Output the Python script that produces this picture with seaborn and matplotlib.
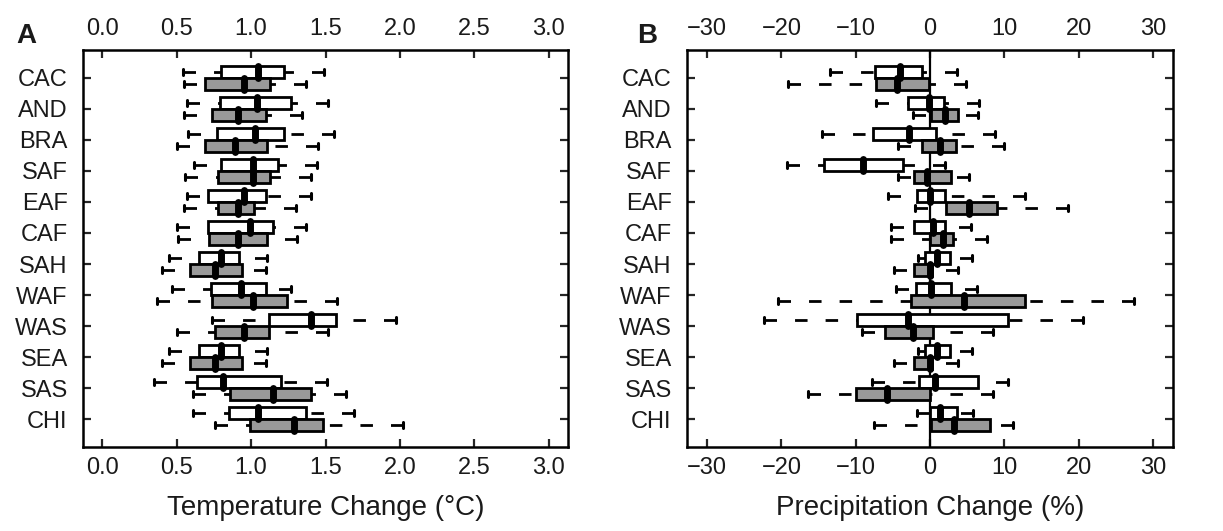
import numpy as np
import pandas as pd
import matplotlib
matplotlib.use('Agg')  # no display
import matplotlib.pyplot as plt
import seaborn as sns

regions = ["CAC", "AND", "BRA", "SAF", "EAF", "CAF",
           "SAH", "WAF", "WAS", "SEA", "SAS", "CHI"]
series = ["upper", "lower"]

# five-number summaries:
# [whisker low, Q1, median, Q3, whisker high], one row per region
temp_upper = [
    [0.54, 0.80, 1.05, 1.22, 1.49],  # CAC
    [0.57, 0.79, 1.04, 1.27, 1.52],  # AND
    [0.58, 0.77, 1.03, 1.22, 1.56],  # BRA
    [0.62, 0.80, 1.01, 1.18, 1.44],  # SAF
    [0.57, 0.71, 0.95, 1.10, 1.40],  # EAF
    [0.50, 0.71, 0.99, 1.15, 1.37],  # CAF
    [0.45, 0.65, 0.80, 0.92, 1.11],  # SAH
    [0.47, 0.73, 0.93, 1.10, 1.27],  # WAF
    [0.74, 1.12, 1.40, 1.57, 1.97],  # WAS
    [0.45, 0.65, 0.80, 0.92, 1.11],  # SEA
    [0.35, 0.64, 0.81, 1.20, 1.51],  # SAS
    [0.61, 0.85, 1.05, 1.37, 1.69],  # CHI
]
temp_lower = [
    [0.55, 0.69, 0.95, 1.13, 1.37],  # CAC
    [0.55, 0.74, 0.91, 1.10, 1.34],  # AND
    [0.50, 0.69, 0.89, 1.11, 1.45],  # BRA
    [0.56, 0.78, 1.01, 1.13, 1.40],  # SAF
    [0.55, 0.78, 0.91, 1.02, 1.30],  # EAF
    [0.51, 0.72, 0.91, 1.11, 1.31],  # CAF
    [0.40, 0.59, 0.76, 0.94, 1.10],  # SAH
    [0.37, 0.74, 1.01, 1.24, 1.58],  # WAF
    [0.50, 0.76, 0.95, 1.12, 1.52],  # WAS
    [0.40, 0.59, 0.76, 0.94, 1.10],  # SEA
    [0.61, 0.86, 1.15, 1.40, 1.64],  # SAS
    [0.76, 0.99, 1.29, 1.48, 2.02],  # CHI
]
precip_upper = [
    [-13.4, -7.4, -4.0, -1.1, 3.6],   # CAC
    [-7.3, -3.0, -0.1, 1.9, 6.6],     # AND
    [-14.6, -7.7, -2.8, 0.8, 8.8],    # BRA
    [-19.2, -14.3, -9.0, -3.6, 2.0],  # SAF
    [-5.6, -1.8, 0.0, 2.0, 12.8],     # EAF
    [-5.2, -2.2, 0.4, 2.0, 5.5],      # CAF
    [-1.6, -0.7, 0.9, 2.7, 5.6],      # SAH
    [-4.6, -1.9, 0.2, 2.8, 6.3],      # WAF
    [-22.4, -9.8, -2.9, 10.5, 20.6],  # WAS
    [-1.6, -0.7, 0.9, 2.7, 5.6],      # SEA
    [-7.8, -1.5, 0.7, 6.5, 10.5],     # SAS
    [-1.8, 0.0, 1.3, 3.6, 5.8],       # CHI
]
precip_lower = [
    [-19.1, -7.3, -4.5, -0.2, 4.8],   # CAC
    [-2.3, 0.2, 2.0, 3.8, 6.5],       # AND
    [-4.3, -1.1, 1.4, 3.5, 9.9],      # BRA
    [-4.3, -2.2, -0.4, 2.8, 5.2],     # SAF
    [-2.0, 2.1, 5.2, 9.0, 18.6],      # EAF
    [-5.2, 0.0, 1.8, 3.1, 7.7],       # CAF
    [-4.9, -2.2, 0.0, 0.3, 3.8],      # SAH
    [-20.4, -2.6, 4.6, 12.8, 27.4],   # WAF
    [-9.2, -6.1, -2.3, 0.4, 8.5],     # WAS
    [-4.9, -2.2, 0.0, 0.3, 3.8],      # SEA
    [-16.4, -9.9, -5.8, 0.0, 8.5],    # SAS
    [-7.6, 0.2, 3.2, 8.1, 11.2],      # CHI
]

TEXT = "#1a1a1a"
FONT = ["Liberation Sans", "DejaVu Sans"]


def to_long(upper, lower):
    # five values per box -> quartiles land exactly on Q1/median/Q3,
    # whis=(0, 100) puts the whiskers on the min/max
    rows = []
    for name, stats in zip(series, [upper, lower]):
        for region, five in zip(regions, stats):
            for v in five:
                rows.append({"region": region, "series": name, "value": v})
    return pd.DataFrame(rows)


def draw_panel(ax, upper, lower, xlim, xticks, xlabel, letter, letter_x):
    df = to_long(upper, lower)
    sns.boxplot(
        data=df, x="value", y="region", hue="series",
        order=regions, hue_order=series,
        palette={"upper": "white", "lower": "#999999"}, saturation=1,
        width=0.8, gap=0, whis=(0, 100), showfliers=False,
        linecolor="black", linewidth=2, legend=False, ax=ax,
        boxprops=dict(linewidth=2),
        medianprops=dict(color="black", linewidth=5, solid_capstyle="round"),
        whiskerprops=dict(color="black", linewidth=2,
                          linestyle=(0, (4.5, 6.5)), gid="whisker"),
        capprops=dict(color="black", linewidth=2.2),
        capwidths=0.2,
    )
    # R style: dashes start at the cap, not at the box
    for line in ax.lines:
        if line.get_gid() == "whisker":
            x, y = line.get_data()
            line.set_data(x[::-1], y[::-1])

    ax.set_xlim(*xlim)
    ax.set_ylim(11.9, -0.9)
    ax.set_xticks(xticks)
    ax.set_xlabel(xlabel, fontsize=20, color=TEXT, labelpad=12, family=FONT)
    ax.set_ylabel("")
    ax.tick_params(axis="x", direction="in", top=True, bottom=True,
                   labeltop=True, labelbottom=True, length=6, width=1.6,
                   labelsize=17, labelcolor=TEXT, pad=7)
    ax.tick_params(axis="y", direction="in", left=True, right=True,
                   labelleft=True, labelright=False, length=6, width=1.6,
                   labelsize=17, labelcolor=TEXT, pad=11)
    for lab in ax.get_xticklabels() + ax.get_yticklabels():
        lab.set_family(FONT)
    for s in ax.spines.values():
        s.set_visible(True)
        s.set_linewidth(1.8)
        s.set_color("black")
    ax.figure.text(letter_x, 1 - 36 / 531, letter, fontsize=20,
                   fontweight="bold", ha="center", va="center",
                   color=TEXT, family=FONT)


sns.set_style("ticks")
plt.rcParams["font.family"] = FONT

fig = plt.figure(figsize=(12.23, 5.31), dpi=100)
top = 1 - 50 / 531
bottom = 1 - 447 / 531
ax_a = fig.add_axes([83 / 1223, bottom, (568 - 83) / 1223, top - bottom])
ax_b = fig.add_axes([687 / 1223, bottom, (1173 - 687) / 1223, top - bottom])

draw_panel(ax_a, temp_upper, temp_lower, (-0.128, 3.128),
           [0.0, 0.5, 1.0, 1.5, 2.0, 2.5, 3.0],
           "Temperature Change (\u00b0C)", "A", 26 / 1223)
ax_a.set_xticklabels(["0.0", "0.5", "1.0", "1.5", "2.0", "2.5", "3.0"])

ax_b.axvline(0, color="black", linewidth=1.6, zorder=1)
draw_panel(ax_b, precip_upper, precip_lower, (-32.7, 32.7),
           [-30, -20, -10, 0, 10, 20, 30],
           "Precipitation Change (%)", "B", 647 / 1223)

fig.savefig("out.png", dpi=100)
plt.close(fig)
